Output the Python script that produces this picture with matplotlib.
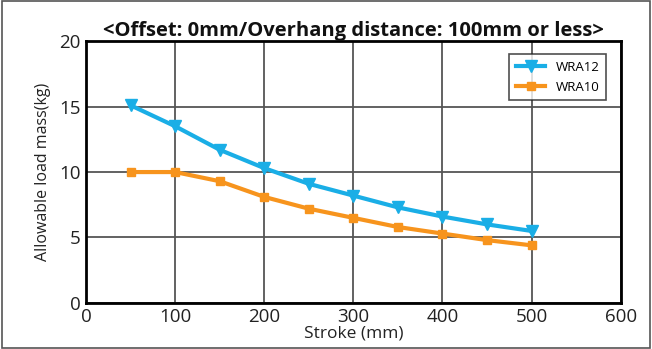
import matplotlib
matplotlib.use("Agg")
import matplotlib.pyplot as plt
from matplotlib.patches import Rectangle

# Data
stroke = [50, 100, 150, 200, 250, 300, 350, 400, 450, 500]
wra12 = [15.1, 13.5, 11.7, 10.3, 9.1, 8.2, 7.3, 6.6, 6.0, 5.5]
wra10 = [10.0, 10.0, 9.3, 8.1, 7.2, 6.5, 5.8, 5.3, 4.8, 4.4]
x_ticks = [0, 100, 200, 300, 400, 500, 600]
y_ticks = [0, 5, 10, 15, 20]

blue = "#1aaee6"
orange = "#f7941d"

plt.rcParams["font.family"] = ["Open Sans", "DejaVu Sans"]

fig = plt.figure(figsize=(6.52, 3.49), dpi=100)
ax = fig.add_axes([0.132, 0.132, 0.820, 0.750])

# Outer grey frame around the whole figure
fig.patches.append(Rectangle((0.003, 0.003), 0.994, 0.994, transform=fig.transFigure,
                             fill=False, edgecolor="#555555", linewidth=1.2))

ax.plot(stroke, wra12, color=blue, lw=3, marker="v", markersize=8,
        label="WRA12", zorder=3)
ax.plot(stroke, wra10, color=orange, lw=3, marker="s", markersize=6,
        label="WRA10", zorder=3)

ax.set_xlim(0, 600)
ax.set_ylim(0, 20)
ax.set_xticks(x_ticks)
ax.set_yticks(y_ticks)
ax.grid(True, color="#555555", linewidth=1.3)
ax.tick_params(length=0, labelsize=13.5, colors="#222222", pad=4)
for s in ax.spines.values():
    s.set_linewidth(2)
    s.set_color("black")

ax.set_xlabel("Stroke (mm)", fontsize=12.5, labelpad=-1, color="#222222")
ax.set_ylabel("Allowable load mass(kg)", fontsize=11.5, labelpad=6, color="#222222")
ax.set_title("<Offset: 0mm/Overhang distance: 100mm or less>",
             fontsize=14.5, fontweight="bold", pad=3, color="#111111")

leg = ax.legend(loc="upper right", bbox_to_anchor=(0.985, 0.975), fontsize=9.5,
                frameon=True, fancybox=False, edgecolor="#222222",
                handlelength=2.2, borderpad=0.5, labelspacing=0.5)
leg.get_frame().set_linewidth(1.2)

fig.savefig("out.png", dpi=100)
